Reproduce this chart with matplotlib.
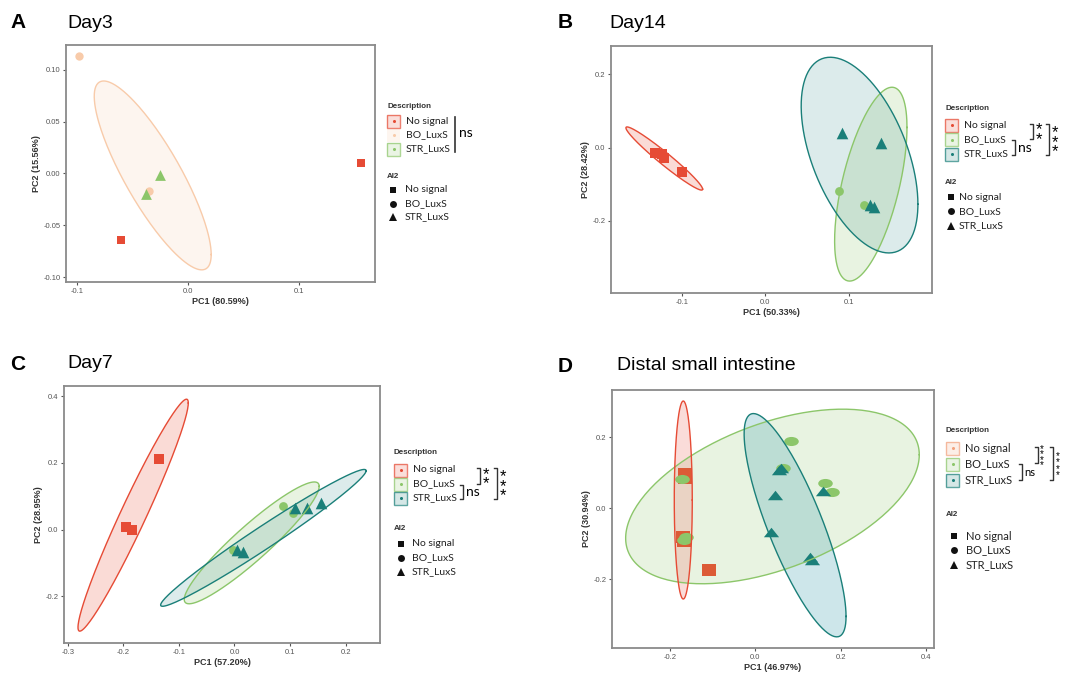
import numpy as np
import matplotlib
matplotlib.use('Agg')
import matplotlib.pyplot as plt
from matplotlib.path import Path
from matplotlib.patches import Rectangle

plt.rcParams['font.family'] = ['Liberation Sans', 'DejaVu Sans']

W, H = 1073, 673

groups = ['No signal', 'BO_LuxS', 'STR_LuxS']

RED = '#E64B35'
PEACH = '#F8CBAA'
GREEN = '#8CC66A'
TEAL = '#1A7F79'
DRED = '#DC5B36'
ORANGE = '#F2A27E'

# ---- data: points per group (PC1, PC2) ----
# A: Day3
a_none_x = [-0.060, 0.156]
a_none_y = [-0.064, 0.010]
a_bo_x = [-0.098, -0.035]
a_bo_y = [0.113, -0.017]
a_str_x = [-0.025, -0.038]
a_str_y = [-0.002, -0.020]

# B: Day14
b_none_x = [-0.132, -0.124, -0.121, -0.100]
b_none_y = [-0.015, -0.017, -0.028, -0.068]
b_bo_x = [0.089, 0.119]
b_bo_y = [-0.120, -0.156]
b_str_x = [0.092, 0.139, 0.126, 0.130]
b_str_y = [0.039, 0.012, -0.156, -0.162]

# C: Day7
c_none_x = [-0.196, -0.184, -0.136]
c_none_y = [0.008, 0.000, 0.210]
c_bo_x = [0.087, 0.106, -0.002]
c_bo_y = [0.071, 0.050, -0.060]
c_str_x = [0.109, 0.130, 0.156, 0.005, 0.016]
c_str_y = [0.063, 0.063, 0.080, -0.062, -0.067]

# D: Distal small intestine
d_none_x = [-0.164, -0.166, -0.170, -0.168, -0.109]
d_none_y = [0.095, 0.085, -0.080, -0.092, -0.174]
d_bo_x = [0.083, 0.064, 0.162, 0.180, -0.172, -0.163, -0.168]
d_bo_y = [0.190, 0.113, 0.072, 0.045, 0.083, -0.080, -0.090]
d_str_x = [0.055, 0.060, 0.047, 0.158, 0.037, 0.128, 0.133]
d_str_y = [0.108, 0.113, 0.037, 0.047, -0.066, -0.137, -0.147]

# ellipses: centre x, centre y, half-extent x, half-extent y, correlation
a_ell_bo = [-0.0317, -0.002, 0.0528, 0.0911, -0.838]
b_ell_none = [-0.121, -0.030, 0.046, 0.0862, -0.970]
b_ell_bo = [0.1267, -0.100, 0.0434, 0.2645, 0.585]
b_ell_str = [0.1132, -0.0207, 0.070, 0.267, -0.502]
c_ell_none = [-0.1825, 0.043, 0.0993, 0.3475, 0.967]
c_ell_bo = [0.031, -0.040, 0.1215, 0.1825, 0.928]
c_ell_str = [0.052, -0.025, 0.185, 0.205, 0.981]
d_ell_none = [-0.169, 0.023, 0.0211, 0.279, 0.0]
d_ell_bo = [0.040, 0.033, 0.344, 0.246, 0.478]
d_ell_str = [0.093, -0.048, 0.1194, 0.3146, -0.817]

# axis labels / ticks
a_xlabel, a_ylabel = 'PC1 (80.59%)', 'PC2 (15.56%)'
b_xlabel, b_ylabel = 'PC1 (50.33%)', 'PC2 (28.42%)'
c_xlabel, c_ylabel = 'PC1 (57.20%)', 'PC2 (28.95%)'
d_xlabel, d_ylabel = 'PC1 (46.97%)', 'PC2 (30.94%)'
a_xticks, a_yticks = [-0.1, 0.0, 0.1], [0.10, 0.05, 0.00, -0.05, -0.10]
b_xticks, b_yticks = [-0.1, 0.0, 0.1], [0.2, 0.0, -0.2]
c_xticks, c_yticks = [-0.3, -0.2, -0.1, 0.0, 0.1, 0.2], [0.4, 0.2, 0.0, -0.2]
d_xticks, d_yticks = [-0.2, 0.0, 0.2, 0.4], [0.2, 0.0, -0.2]


def rect(l, t, r, b):
    return [l / W, 1 - b / H, (r - l) / W, (b - t) / H]


def wide(path, sx=1.5):
    return Path(path.vertices * [sx, 1.0], path.codes)


tri_path = Path([(0, 1), (-1, -1), (1, -1), (0, 1)], closed=True)
WSQ = wide(Path.unit_rectangle().transformed(
    matplotlib.transforms.Affine2D().translate(-0.5, -0.5)), 1.3)
WCI = wide(Path.unit_circle(), 1.6)
WTR = wide(tri_path, 1.6)


def draw_ellipse(ax, e, col, alpha, edge=None):
    cx, cy, hx, hy, r = e
    S = np.array([[hx * hx, r * hx * hy], [r * hx * hy, hy * hy]])
    L = np.linalg.cholesky(S + np.eye(2) * 1e-12)
    t = np.linspace(0, 2 * np.pi, 200)
    pts = L @ np.vstack([np.cos(t), np.sin(t)])
    ax.fill(cx + pts[0], cy + pts[1], color=col, alpha=alpha, lw=0)
    ax.plot(cx + pts[0], cy + pts[1], color=edge or col, lw=1.0)


def setup_axes(ax, xlim, ylim, xticks, yticks, xlabel, ylabel, yfmt):
    ax.set_xlim(xlim)
    ax.set_ylim(ylim)
    ax.set_xticks(xticks)
    ax.set_yticks(yticks)
    ax.set_xticklabels([f'{v:.1f}' for v in xticks])
    ax.set_yticklabels([yfmt.format(v) for v in yticks])
    ax.tick_params(labelsize=5.5, colors='#555555', length=2.5, width=0.8, pad=1.5)
    for s in ax.spines.values():
        s.set_color('#8a8a8a')
        s.set_linewidth(1.3)
    ax.set_xlabel(xlabel, fontsize=6.5, fontweight='bold', color='#333333', labelpad=2)
    ax.set_ylabel(ylabel, fontsize=6.5, fontweight='bold', color='#333333', labelpad=2)


fig = plt.figure(figsize=(W / 100, H / 100), dpi=100)

# ---------- A ----------
ax = fig.add_axes(rect(66, 45, 375, 282))
setup_axes(ax, (-0.110, 0.169), (-0.1048, 0.1238), a_xticks, a_yticks,
           a_xlabel, a_ylabel, '{:.2f}')
draw_ellipse(ax, a_ell_bo, PEACH, 0.18)
ax.scatter(a_bo_x, a_bo_y, marker='o', s=36, color=PEACH, lw=0)
ax.scatter(a_none_x, a_none_y, marker='s', s=40, color=RED, lw=0)
ax.scatter(a_str_x, a_str_y, marker='^', s=60, color=GREEN, lw=0)

# ---------- B ----------
ax = fig.add_axes(rect(611, 46, 932, 293))
setup_axes(ax, (-0.1849, 0.2001), (-0.397, 0.277), b_xticks, b_yticks,
           b_xlabel, b_ylabel, '{:.1f}')
draw_ellipse(ax, b_ell_none, RED, 0.2)
draw_ellipse(ax, b_ell_bo, GREEN, 0.2)
draw_ellipse(ax, b_ell_str, TEAL, 0.15)
ax.scatter(b_none_x, b_none_y, marker='s', s=50, color=RED, lw=0)
ax.scatter(b_bo_x, b_bo_y, marker='o', s=40, color=GREEN, lw=0)
ax.scatter(b_str_x, b_str_y, marker='^', s=70, color=TEAL, lw=0)

# ---------- C ----------
ax = fig.add_axes(rect(64, 386, 380, 643))
setup_axes(ax, (-0.307, 0.262), (-0.340, 0.430), c_xticks, c_yticks,
           c_xlabel, c_ylabel, '{:.1f}')
draw_ellipse(ax, c_ell_none, RED, 0.2)
draw_ellipse(ax, c_ell_bo, GREEN, 0.2)
draw_ellipse(ax, c_ell_str, TEAL, 0.15)
ax.scatter(c_none_x, c_none_y, marker='s', s=50, color=RED, lw=0)
ax.scatter(c_bo_x, c_bo_y, marker='o', s=40, color=GREEN, lw=0)
ax.scatter(c_str_x, c_str_y, marker='^', s=70, color=TEAL, lw=0)

# ---------- D ----------
ax = fig.add_axes(rect(612, 390, 934, 648))
setup_axes(ax, (-0.336, 0.4185), (-0.394, 0.333), d_xticks, d_yticks,
           d_xlabel, d_ylabel, '{:.1f}')
draw_ellipse(ax, d_ell_bo, GREEN, 0.2)
draw_ellipse(ax, d_ell_none, '#F08C84', 0.3, edge=RED)
draw_ellipse(ax, d_ell_str, '#3A9FAE', 0.25, edge=TEAL)
ax.scatter(d_none_x, d_none_y, marker=WSQ, s=110, color=DRED, lw=0)
ax.scatter(d_bo_x, d_bo_y, marker=WCI, s=110, color=GREEN, lw=0)
ax.scatter(d_str_x, d_str_y, marker=WTR, s=120, color=TEAL, lw=0)

# ---------- overlay: panel letters, titles, legends ----------
ov = fig.add_axes([0, 0, 1, 1], zorder=5)
ov.set_xlim(0, W)
ov.set_ylim(H, 0)
ov.axis('off')

for letter, title, lx, tx, ty in [('A', 'Day3', 10, 67, 23), ('B', 'Day14', 558, 609, 23),
                                  ('C', 'Day7', 10, 67, 364), ('D', 'Distal small intestine', 558, 617, 366)]:
    ov.text(lx, ty, letter, fontsize=15, fontweight='bold', va='center', ha='left')
    ov.text(tx, ty, title, fontsize=14, va='center', ha='left')


def legend(x, title_y, rows, cols, box_edges, ai2_title_y, ai2_rows, mx, tx, fs=7.5, box=13):
    ov.text(x, title_y, 'Description', fontsize=5.8, fontweight='bold', color='#333333',
            va='center', ha='left')
    for y, c, e, lab in zip(rows, cols, box_edges, groups):
        ov.add_patch(Rectangle((x, y - box / 2), box, box, facecolor=c, alpha=0.18, lw=0))
        if e:
            ov.add_patch(Rectangle((x, y - box / 2), box, box, facecolor='none',
                                   edgecolor=c, lw=1.0, alpha=0.7))
        ov.plot([x + box / 2], [y], marker='o', ms=2.2, color=c, mew=0)
        ov.text(x + box + 6, y, lab, fontsize=fs, family=['Lato', 'DejaVu Sans'],
                va='center', ha='left', color='#222222')
    ov.text(x, ai2_title_y, 'AI2', fontsize=5.8, fontweight='bold', color='#333333',
            va='center', ha='left')
    for y, m, lab in zip(ai2_rows, ['s', 'o', '^'], groups):
        ov.plot([mx], [y], marker=m, ms=5 if m != '^' else 6, color='#111111', mew=0)
        ov.text(tx, y, lab, fontsize=fs, family=['Lato', 'DejaVu Sans'],
                va='center', ha='left', color='#222222')


def bracket(x, y1, y2, label, lx, fs=9, stars=False, tick=3.5, ls=0.55, dy=3):
    ov.plot([x - tick, x, x, x - tick], [y1, y1, y2, y2], color='#333333', lw=1.0)
    if stars:
        # star stacks: one star per line in a single text
        ov.text(lx, (y1 + y2) / 2 + dy, '\n'.join(label), fontsize=fs, linespacing=ls,
                ha='center', va='center')
    else:
        ov.text(lx, (y1 + y2) / 2, label, fontsize=fs, ha='left', va='center',
                family=['Lato', 'DejaVu Sans'])


# A legend
legend(387, 106, [121, 135, 149], [RED, PEACH, GREEN], [True, False, True],
       176, [190, 203.5, 217], 393, 405)
ov.plot([455, 455], [117, 152], color='#333333', lw=1.2)
ov.text(459, 133, 'ns', fontsize=10, family=['Lato', 'DejaVu Sans'], va='center', ha='left')

# B legend
legend(945, 109, [125, 139.5, 154], [RED, GREEN, TEAL], [True, True, True],
       183, [197, 211.3, 225.7], 951, 959)
bracket(1033, 124, 139, '**', 1039, fs=12, stars=True)
bracket(1015, 140, 155, 'ns', 1018, fs=10)
bracket(1049, 124, 155, '***', 1055, fs=12, stars=True)

# C legend
legend(394, 452.7, [470, 484, 498], [RED, GREEN, TEAL], [True, True, True],
       528, [544, 558, 572], 401, 412)
bracket(480, 468, 484, '**', 486, fs=12, stars=True)
bracket(463, 485, 499, 'ns', 466, fs=10)
bracket(497, 468, 499, '***', 503, fs=12, stars=True)

# D legend
legend(946, 430, [448, 464, 480], [ORANGE, GREEN, TEAL], [True, True, True],
       515, [536, 550, 565], 954, 966, fs=8)
bracket(1038, 447, 463, '****', 1042, fs=7, stars=True, ls=0.42, dy=2)
bracket(1022, 464, 480, 'ns', 1024, fs=8)
bracket(1053, 447, 480, '****', 1058, fs=7, stars=True, ls=0.55, dy=2)

fig.savefig('out.png', dpi=100)
